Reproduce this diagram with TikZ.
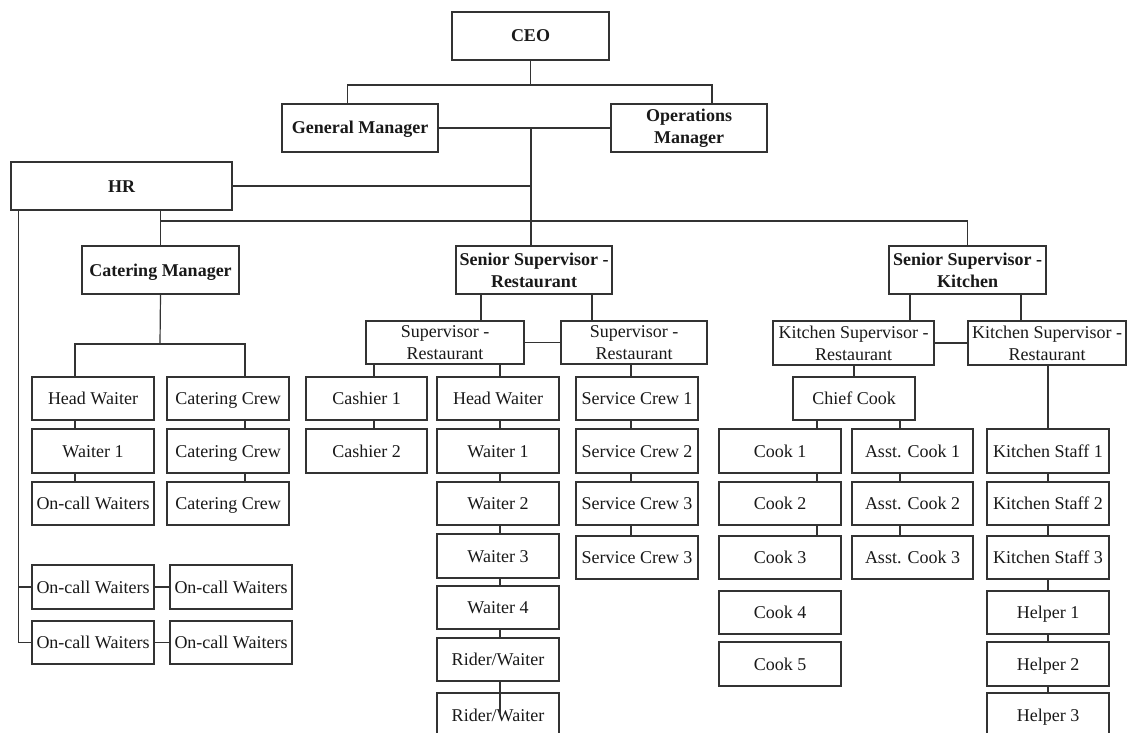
\documentclass[tikz,border=0pt]{standalone}
\usepackage{fontspec}
\setmainfont{Liberation Serif}
\tikzset{
 bx/.style={draw=black!80, line width=1.2pt, inner sep=0pt, align=center, font=\fontsize{18}{22}\selectfont, text=black!90, text height=16pt, text depth=4pt},
 tw/.style={draw=black!80, line width=1.2pt, inner sep=0pt, align=center, font=\fontsize{18}{22}\selectfont, text=black!90},
 bb/.style={bx, font=\fontsize{18}{22}\selectfont\bfseries},
 tb/.style={tw, font=\fontsize{18}{22}\selectfont\bfseries},
 ln/.style={draw=black!80, line width=1.2pt}
}
\newcommand{\obox}[7]{\node[#1, minimum width={(#4)-(#2)}, minimum height={(#5)-(#3)}] (#6) at ({((#2)+(#4))/2},{((#3)+(#5))/2}) {#7};}
\begin{document}
\begin{tikzpicture}[x=1pt,y=-1pt]
\clip (0,0) rectangle (1127,733);
\fill[white] (0,0) rectangle (1127,733);
% top levels
\obox{bb}{452}{12}{609}{60}{ceo}{CEO}
\obox{bb}{282}{104}{438}{152}{gm}{General Manager}
\obox{tb}{611}{104}{767}{152}{om}{Operations\\Manager}
\obox{bb}{11}{162}{232}{210}{hr}{HR}
\obox{bb}{82}{246}{239}{294}{cm}{Catering Manager}
\obox{tb}{456}{246}{612}{294}{ssr}{Senior Supervisor -\\Restaurant}
\obox{tb}{889}{246}{1046}{294}{ssk}{Senior Supervisor -\\Kitchen}
% supervisors
\obox{tw}{366}{321}{524}{364}{sup1}{Supervisor -\\Restaurant}
\obox{tw}{561}{321}{707}{364}{sup2}{Supervisor -\\Restaurant}
\obox{tw}{773}{321}{934}{365}{ksup1}{Kitchen Supervisor -\\Restaurant}
\obox{tw}{968}{321}{1126}{365}{ksup2}{Kitchen Supervisor -\\Restaurant}
% catering columns
\obox{bx}{32}{377}{154}{420}{chw}{Head Waiter}
\obox{bx}{32}{429}{154}{473}{cw1}{Waiter 1}
\obox{bx}{32}{482}{154}{525}{coc}{On-call Waiters}
\obox{bx}{167}{377}{289}{420}{cc1}{Catering Crew}
\obox{bx}{167}{429}{289}{473}{cc2}{Catering Crew}
\obox{bx}{167}{482}{289}{525}{cc3}{Catering Crew}
\obox{bx}{32}{565}{154}{609}{oc1a}{On-call Waiters}
\obox{bx}{170}{565}{292}{609}{oc1b}{On-call Waiters}
\obox{bx}{32}{621}{154}{664}{oc2a}{On-call Waiters}
\obox{bx}{170}{621}{292}{664}{oc2b}{On-call Waiters}
% restaurant columns
\obox{bx}{306}{377}{427}{420}{cash1}{Cashier 1}
\obox{bx}{306}{429}{427}{473}{cash2}{Cashier 2}
\obox{bx}{437}{377}{559}{420}{hw}{Head Waiter}
\obox{bx}{437}{429}{559}{473}{w1}{Waiter 1}
\obox{bx}{437}{482}{559}{525}{w2}{Waiter 2}
\obox{bx}{437}{534}{559}{578}{w3}{Waiter 3}
\obox{bx}{437}{586}{559}{629}{w4}{Waiter 4}
\obox{bx}{437}{638}{559}{681}{rw1}{Rider/Waiter}
\obox{bx}{437}{693}{559}{737}{rw2}{Rider/Waiter}
\obox{bx}{576}{377}{698}{420}{sc1}{Service Crew 1}
\obox{bx}{576}{429}{698}{473}{sc2}{Service Crew 2}
\obox{bx}{576}{482}{698}{525}{sc3}{Service Crew 3}
\obox{bx}{576}{536}{698}{579}{sc4}{Service Crew 3}
% kitchen columns
\obox{bx}{793}{377}{915}{420}{chief}{Chief Cook}
\obox{bx}{719}{429}{841}{473}{ck1}{Cook 1}
\obox{bx}{719}{482}{841}{525}{ck2}{Cook 2}
\obox{bx}{719}{536}{841}{579}{ck3}{Cook 3}
\obox{bx}{719}{591}{841}{634}{ck4}{Cook 4}
\obox{bx}{719}{642}{841}{686}{ck5}{Cook 5}
\obox{bx}{852}{429}{973}{473}{ac1}{Asst. Cook 1}
\obox{bx}{852}{482}{973}{525}{ac2}{Asst. Cook 2}
\obox{bx}{852}{536}{973}{579}{ac3}{Asst. Cook 3}
\obox{bx}{987}{429}{1109}{473}{ks1}{Kitchen Staff 1}
\obox{bx}{987}{482}{1109}{525}{ks2}{Kitchen Staff 2}
\obox{bx}{987}{536}{1109}{579}{ks3}{Kitchen Staff 3}
\obox{bx}{987}{591}{1109}{634}{h1}{Helper 1}
\obox{bx}{987}{642}{1109}{686}{h2}{Helper 2}
\obox{bx}{987}{693}{1109}{737}{h3}{Helper 3}
% junction coordinates
\coordinate (bus1) at (531,85);
\coordinate (gmx) at (347.5,0);
\coordinate (omx) at (712,0);
\coordinate (v) at (531,128);
\coordinate (bus2) at (160,221);
\coordinate (hl) at (18.7,0);
\coordinate (bus3) at (160,344);
\coordinate (cx1) at (75,0);
\coordinate (cx2) at (245,0);
\coordinate (s1) at (481,0);
\coordinate (s2) at (592,0);
\coordinate (k1) at (910,0);
\coordinate (k2) at (1021,0);
\coordinate (cax) at (374,0);
\coordinate (hx) at (500,0);
\coordinate (scx) at (631,0);
\coordinate (ckx) at (817,0);
\coordinate (acx) at (900,0);
\coordinate (rend) at (500,714);
% connectors
\draw[ln] (ceo.south) -- (ceo.south |- bus1);
\draw[ln] (gm.north -| gmx) |- (bus1) -| (om.north -| omx);
\draw[ln] (gm.east) -- (om.west);
\draw[ln] (v) -- (v |- ssr.north);
\draw[ln] (hr.east) -- (hr.east -| v);
\draw[ln] (hr.south -| cm.north) -- (cm.north);
\draw[ln] (bus2) -| (ssk.north);
\draw[ln] (hr.south -| hl) |- (oc1a.west);
\draw[ln] (hr.south -| hl) |- (oc2a.west);
\draw[ln] (oc1a.east) -- (oc1b.west);
\draw[ln] (oc2a.east) -- (oc2b.west);
\draw[ln] (cm.south) -- (bus3);
\draw[ln] (chw.north -| cx1) |- (bus3) -| (cc1.north -| cx2);
\foreach \a/\b in {chw/cw1,cw1/coc} \draw[ln] (\a.south -| cx1) -- (\b.north -| cx1);
\foreach \a/\b in {cc1/cc2,cc2/cc3} \draw[ln] (\a.south -| cx2) -- (\b.north -| cx2);
\draw[ln] (ssr.south -| s1) -- (sup1.north -| s1);
\draw[ln] (ssr.south -| s2) -- (sup2.north -| s2);
\draw[ln] (ssk.south -| k1) -- (ksup1.north -| k1);
\draw[ln] (ssk.south -| k2) -- (ksup2.north -| k2);
\draw[ln] (sup1.east) -- (sup2.west);
\draw[ln] (ksup1.east) -- (ksup2.west);
\foreach \a/\b in {sup1/cash1,cash1/cash2} \draw[ln] (\a.south -| cax) -- (\b.north -| cax);
\foreach \a/\b in {sup1/hw,hw/w1,w1/w2,w2/w3,w3/w4,w4/rw1} \draw[ln] (\a.south -| hx) -- (\b.north -| hx);
\draw[ln] (rw1.south -| hx) -- (rend);
\foreach \a/\b in {sup2/sc1,sc1/sc2,sc2/sc3,sc3/sc4} \draw[ln] (\a.south -| scx) -- (\b.north -| scx);
\draw[ln] (ksup1.south -| chief.north) -- (chief.north);
\foreach \a/\b in {chief/ck1,ck1/ck2,ck2/ck3} \draw[ln] (\a.south -| ckx) -- (\b.north -| ckx);
\foreach \a/\b in {chief/ac1,ac1/ac2,ac2/ac3} \draw[ln] (\a.south -| acx) -- (\b.north -| acx);
\foreach \a/\b in {ksup2/ks1,ks1/ks2,ks2/ks3,ks3/h1,h1/h2,h2/h3} \draw[ln] (\a.south -| ks1.north) -- (\b.north -| ks1.north);
\end{tikzpicture}
\end{document}
